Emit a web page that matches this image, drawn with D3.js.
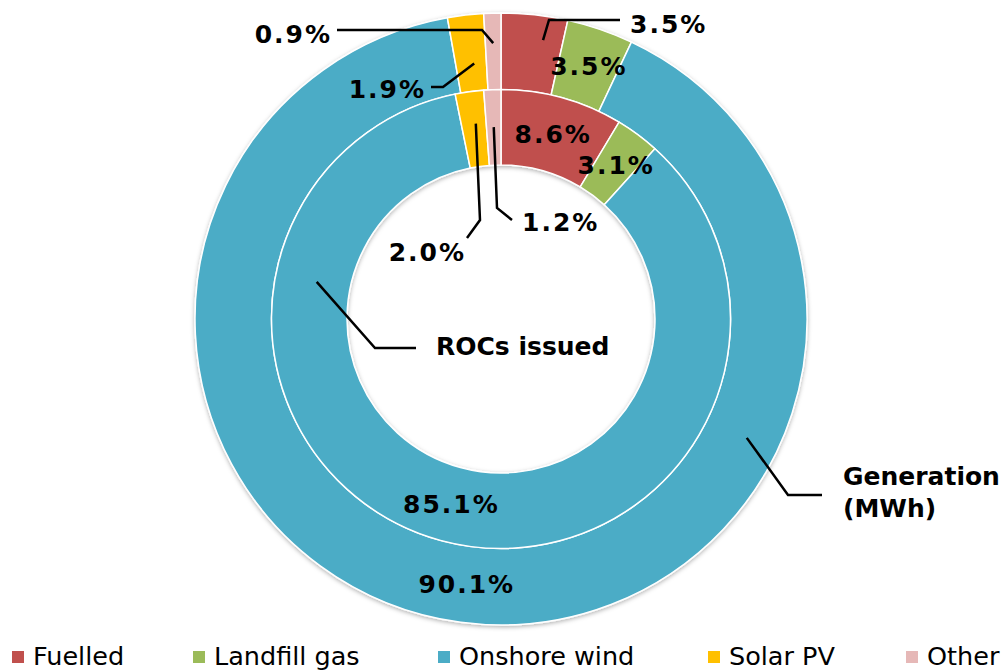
<!DOCTYPE html>
<html>
<head>
<meta charset="utf-8">
<script src="https://cdn.jsdelivr.net/npm/d3@7"></script>
<style>
  body { margin: 0; background: #fff; }
  .pct { font-family: "DejaVu Sans", Verdana, sans-serif; font-weight: bold; font-size: 25px; letter-spacing: 2px; fill: #000; }
  .ring-label { font-family: "DejaVu Sans", Verdana, sans-serif; font-weight: bold; font-size: 25px; fill: #000; }
  .legend text { font-family: "DejaVu Sans", Verdana, sans-serif; font-size: 25.5px; fill: #000; }
  .leader { fill: none; stroke: #000; stroke-width: 2.5; }
</style>
</head>
<body>
<div id="chart"></div>
<script>
// data: shares of RO scheme by technology
var categories = ["Fuelled", "Landfill gas", "Onshore wind", "Solar PV", "Other"];
var rocsIssued = [8.6, 3.1, 85.1, 2.0, 1.2];   // inner ring
var generation = [3.5, 3.5, 90.1, 1.9, 0.9];   // outer ring (MWh)
var colours = ["#C0504D", "#9BBB59", "#4BACC6", "#FFC000", "#E6B8B7"];

var width = 1007, height = 671;
var cx = 501, cy = 319;
var rHole = 154, rMid = 229.5, rOuter = 306;

var svg = d3.select("#chart")
  .append("svg")
  .attr("width", width)
  .attr("height", height);

var defs = svg.append("defs");
var shadow = defs.append("filter")
  .attr("id", "shadow")
  .attr("x", "-10%").attr("y", "-10%")
  .attr("width", "120%").attr("height", "120%");
shadow.append("feDropShadow")
  .attr("dx", 0).attr("dy", 1.5)
  .attr("stdDeviation", 2)
  .attr("flood-color", "#000")
  .attr("flood-opacity", 0.3);

var pie = d3.pie().sort(null).value(function(d) { return d; });
var innerSlices = pie(rocsIssued);
var outerSlices = pie(generation);

var innerArc = d3.arc().innerRadius(rHole).outerRadius(rMid);
var outerArc = d3.arc().innerRadius(rMid).outerRadius(rOuter);

var g = svg.append("g")
  .attr("transform", "translate(" + cx + "," + cy + ")");

var rings = g.append("g").attr("filter", "url(#shadow)");

// draw rings
rings.selectAll(".outer")
  .data(outerSlices)
  .enter()
  .append("path")
  .attr("class", "outer")
  .attr("d", outerArc)
  .attr("fill", function(d, i) { return colours[i]; })
  .attr("stroke", "#fff")
  .attr("stroke-width", 1.5);

rings.selectAll(".inner")
  .data(innerSlices)
  .enter()
  .append("path")
  .attr("class", "inner")
  .attr("d", innerArc)
  .attr("fill", function(d, i) { return colours[i]; })
  .attr("stroke", "#fff")
  .attr("stroke-width", 1.5);

var fmt = function(v) { return d3.format(".1f")(v) + "%"; };

// labels sitting inside their slice
var inside = [
  {slices: outerSlices, arc: outerArc, i: 1},
  {slices: outerSlices, arc: outerArc, i: 2},
  {slices: innerSlices, arc: innerArc, i: 0},
  {slices: innerSlices, arc: innerArc, i: 1},
  {slices: innerSlices, arc: innerArc, i: 2}
];

g.selectAll(".in-label")
  .data(inside)
  .enter()
  .append("text")
  .attr("class", "pct")
  .attr("text-anchor", "middle")
  .attr("dy", "0.36em")
  .attr("transform", function(d) {
    var c = d.arc.centroid(d.slices[d.i]);
    return "translate(" + (c[0] + 1) + "," + c[1] + ")";
  })
  .text(function(d) { return fmt(d.slices[d.i].value); });

// point on a slice at fraction t of its angle and radius r (relative to centre)
function slicePoint(s, t, r) {
  var a = s.startAngle + t * (s.endAngle - s.startAngle);
  return [r * Math.sin(a), -r * Math.cos(a)];
}

// callouts with leader lines (elbow / end / text in page coords)
var callouts = [
  {slices: outerSlices, i: 0, t: 0.68, r: 282, elbow: [549, 20], end: [620, 20], tx: 630, ty: 24, anchor: "start"},
  {slices: outerSlices, i: 3, t: 0.6, r: 257, elbow: [443, 87], end: [431, 87], tx: 426, ty: 89, anchor: "end"},
  {slices: outerSlices, i: 4, t: 0.5, r: 276, elbow: [482, 30], end: [337, 30], tx: 332, ty: 34, anchor: "end"},
  {slices: innerSlices, i: 3, t: 0.58, r: 197, elbow: [480, 220], end: [467, 238], tx: 466, ty: 252, anchor: "end"},
  {slices: innerSlices, i: 4, t: 0.5, r: 192, elbow: [497, 208], end: [512, 220], tx: 522, ty: 222, anchor: "start"}
];

callouts.forEach(function(c) {
  var p = slicePoint(c.slices[c.i], c.t, c.r);
  svg.append("polyline")
    .attr("class", "leader")
    .attr("points", [[cx + p[0], cy + p[1]], c.elbow, c.end].map(function(q) { return q.join(","); }).join(" "));
  svg.append("text")
    .attr("class", "pct")
    .attr("x", c.tx)
    .attr("y", c.ty)
    .attr("dy", "0.36em")
    .attr("text-anchor", c.anchor)
    .text(fmt(c.slices[c.i].value));
});

// ring names
var rocStart = slicePoint(innerSlices[2], 0.781, 188);
svg.append("polyline")
  .attr("class", "leader")
  .attr("points", (cx + rocStart[0]) + "," + (cy + rocStart[1]) + " 375,348 416,348");
svg.append("text")
  .attr("class", "ring-label")
  .attr("x", 436)
  .attr("y", 346)
  .attr("dy", "0.36em")
  .text("ROCs issued");

var genStart = slicePoint(outerSlices[2], 0.279, 273);
svg.append("polyline")
  .attr("class", "leader")
  .attr("points", (cx + genStart[0]) + "," + (cy + genStart[1]) + " 788,495 822,495");
var genText = svg.append("text")
  .attr("class", "ring-label")
  .attr("x", 843)
  .attr("y", 485);
genText.append("tspan").attr("x", 843).attr("y", 485).text("Generation");
genText.append("tspan").attr("x", 843).attr("y", 517).text("(MWh)");

// legend
var legendX = [12, 193, 438, 708, 906];
var legend = svg.append("g").attr("class", "legend");
var item = legend.selectAll("g")
  .data(categories)
  .enter()
  .append("g")
  .attr("transform", function(d, i) { return "translate(" + legendX[i] + ",651)"; });

item.append("rect")
  .attr("width", 12)
  .attr("height", 12)
  .attr("fill", function(d, i) { return colours[i]; });

item.append("text")
  .attr("x", 21)
  .attr("y", 14)
  .text(function(d) { return d; });
</script>
</body>
</html>
